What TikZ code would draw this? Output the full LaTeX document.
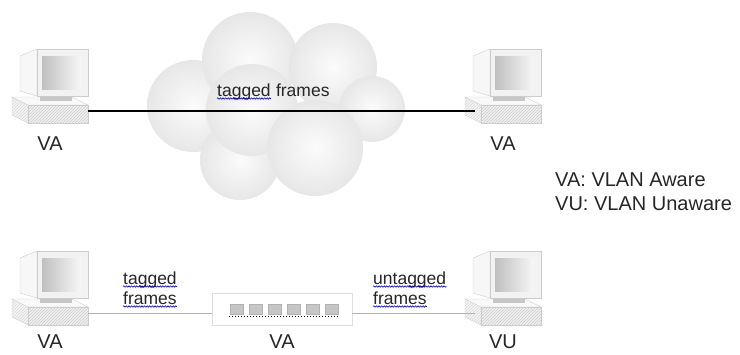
\documentclass[tikz,border=0pt]{standalone}
\usepackage{fontspec}
\setmainfont{Liberation Sans}
\usetikzlibrary{positioning,patterns,decorations.pathmorphing}

\begin{document}
\begin{tikzpicture}[
  x=1pt, y=-1pt,
  lbl/.style={inner sep=0pt, text=black!85, font=\fontsize{20}{24}\selectfont},
  word/.style={inner sep=0pt, anchor=base west, text=black!85, font=\fontsize{17.5}{20}\selectfont},
  squiggle/.style={draw=blue!75!black, line width=0.6pt, decorate,
    decoration={snake, amplitude=0.7pt, segment length=2.6pt}},
  puff/.style={shading=radial, inner color=white!97!gray, outer color=gray!19},
  trunk/.style={draw=black, line width=1.1pt},
  lan/.style={draw=gray!60, line width=0.7pt},
  casing/.style={draw=gray!40, line width=0.4pt},
  switchbox/.style={draw=gray!25, fill=white, minimum width=140pt, minimum height=32pt, inner sep=0pt},
  port/.style={draw=gray!60, fill=gray!45, line width=0.3pt},
  computer/.pic={
    \filldraw[casing, fill=gray!8] (3,48) -- (19,56) -- (19,74) -- (3,66) -- cycle;
    \fill[pattern=north east lines, pattern color=gray!30] (3,48) -- (19,56) -- (19,74) -- (3,66) -- cycle;
    \filldraw[casing, fill=gray!5] (3,48) -- (63,48) -- (79,56) -- (19,56) -- cycle;
    \filldraw[casing, fill=gray!12] (19,56) rectangle (79,74);
    \fill[pattern=north east lines, pattern color=gray!40] (19,56) rectangle (79,74);
    \fill[gray!45] (31,47) rectangle (63,52);
    \filldraw[casing, fill=gray!6] (28,0) -- (11,7) -- (11,42) -- (28,47) -- cycle;
    \filldraw[casing, fill=gray!10] (28,0) rectangle (79,47);
    \fill[left color=gray!50, right color=gray!6] (33,7) rectangle (72,40);
    \coordinate (-east) at (79,62);
    \coordinate (-west) at (13,62);
    \coordinate (-foot) at (41,74);
  }
]
\useasboundingbox (0,0) rectangle (740,354);

\foreach \cx/\cy/\r in {193/106/46, 250/60/48, 333/67/44, 372/109/33, 240/160/40, 252/110/46, 315/148/48}
  \shade[puff] (\cx,\cy) circle[radius=\r pt];

\pic (hostA) at (9,49) {computer};
\pic (hostB) at (462,49) {computer};
\pic (hostC) at (9,251) {computer};
\pic (hostD) at (462,251) {computer};

\node[switchbox] (switch) at (282,309) {};
\begin{scope}[shift={(switch.center)}]
  \foreach \i in {0,...,5}
    \filldraw[port] (-52+19*\i,-5) rectangle ++(13,10);
  \draw[dotted, line width=1pt] (-53,7) -- (57,7);
\end{scope}

\node[lbl, below=14pt of hostA-foot] (vaA) {VA};
\node[lbl, below=14pt of hostB-foot] (vaB) {VA};
\node[lbl, below=10pt of hostC-foot] (vaC) {VA};
\node[lbl] (vaS) at (switch |- vaC) {VA};
\node[lbl, below=10pt of hostD-foot] (vuD) {VU};

\node[lbl, anchor=west] (keyA) at (555,180) {VA: VLAN Aware};
\node[lbl, anchor=west] (keyU) at (555,204) {VU: VLAN Unaware};

\node[word] (tagC) at (217,96) {tagged};
\node[word] (frC) at ([xshift=4.9pt]tagC.base east) {frames};
\node[word] (tagL) at (123,284) {tagged};
\node[word] (frL) at ([yshift=-20pt]tagL.base west) {frames};
\node[word] (untagR) at (373,284) {untagged};
\node[word] (frR) at ([yshift=-20pt]untagR.base west) {frames};

\foreach \w in {tagC,tagL,frL,untagR,frR}
  \draw[squiggle] ([yshift=-2.5pt]\w.base west) -- ([yshift=-2.5pt]\w.base east);

\draw[trunk] (hostA-east) -- (hostB-west);
\draw[lan] (hostC-east) -- (hostC-east -| switch.west);
\draw[lan] (hostD-west -| switch.east) -- (hostD-west);

\end{tikzpicture}
\end{document}
